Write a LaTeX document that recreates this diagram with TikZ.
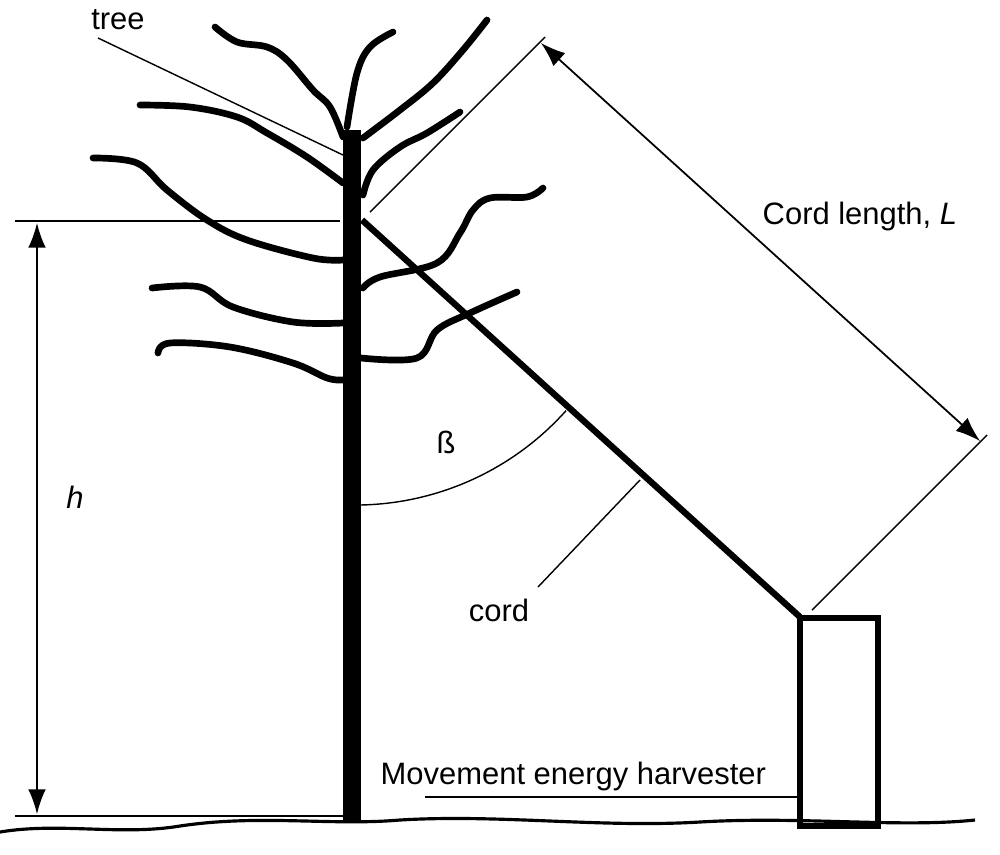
\documentclass[tikz,border=0pt]{standalone}
\usepackage{fontspec}
\setmainfont{Liberation Sans}
\usetikzlibrary{arrows.meta}
\begin{document}
\begin{tikzpicture}[x=0.01cm,y=-0.01cm,
  br/.style={line width=1.9pt,line cap=round,line join=round},
  thin/.style={line width=0.4pt},
  lbl/.style={font=\fontsize{8.8pt}{10pt}\selectfont,inner sep=0pt},
  dim/.style={line width=0.5pt,{Latex[length=7pt,width=5pt]}-{Latex[length=7pt,width=5pt]}}]
\useasboundingbox (0,0) rectangle (1000,854);
% ground
\draw[line width=0.9pt] (0,832) .. controls (60,822) and (120,836) .. (180,826) .. controls (260,814) and (330,826) .. (400,820) .. controls (500,814) and (600,828) .. (700,822) .. controls (800,816) and (900,828) .. (975,820);
% trunk
\fill (343,130) rectangle (361,822);
% branches
\draw[br] plot[smooth,tension=0.6] coordinates {(215,27) (237,42) (267,47) (287,60) (313,90) (330,107) (343,137)};
\draw[br] plot[smooth,tension=0.6] coordinates {(140,105) (190,107) (237,117) (267,133) (307,157) (343,183)};
\draw[br] plot[smooth,tension=0.6] coordinates {(93,158) (137,163) (167,190) (207,220) (247,240) (313,258) (343,260)};
\draw[br] plot[smooth,tension=0.6] coordinates {(152,288) (200,287) (233,307) (293,322) (343,323)};
\draw[br] plot[smooth,tension=0.6] coordinates {(158,353) (170,343) (230,347) (293,363) (327,378) (343,380)};
\draw[br] plot[smooth,tension=0.6] coordinates {(347,127) (357,73) (370,47) (393,32)};
\draw[br] plot[smooth,tension=0.6] coordinates {(363,138) (400,110) (433,83) (463,50) (487,20)};
\draw[br] plot[smooth,tension=0.6] coordinates {(363,195) (373,170) (400,147) (427,133) (460,112)};
\draw[br] plot[smooth,tension=0.6] coordinates {(363,288) (380,277) (437,263) (460,233) (473,210) (490,198) (527,197) (543,188)};
\draw[br] plot[smooth,tension=0.6] coordinates {(361,358) (417,358) (437,330) (470,313) (517,292)};
% coordinates
\coordinate (cordTop) at (362,220);
\coordinate (cordBot) at (800,617);
\coordinate (ext1a) at (370,212); \coordinate (ext1b) at (545,37);
\coordinate (ext2a) at (812,610); \coordinate (ext2b) at (987,435);
% cord
\draw[line width=1.8pt] (cordTop) -- (cordBot);
% box
\draw[line width=1.8pt] (800,618) rectangle (878,826);
% height dimension
\draw[thin] (15,221) -- (340,221);
\draw[thin] (15,816) -- (343,816);
\coordinate (hT) at (37,223); \coordinate (hB) at (37,814);
\draw[dim] (hT) -- (hB);
\node[lbl,font=\fontsize{8.8pt}{10pt}\selectfont\itshape] (h) at (75,497) {h};
% cord length dimension
\draw[thin] (ext1a) -- (ext1b);
\draw[thin] (ext2a) -- (ext2b);
\draw[dim] (541,43) -- (980,441);
\node[lbl,anchor=west] (L) at (762,216) {Cord length, \textit{L}};
% angle
\draw[thin] (360,505) arc[start angle=89,end angle=41.8,radius=283];
\node[lbl] (beta) at (446,442) {ß};
% labels
\node[lbl] (tree) at (118,20) {tree};
\draw[thin] (98,38) -- (343,155);
\node[lbl] (cord) at (499,610) {cord};
\draw[thin] (538,587) -- (640,480);
\node[lbl,anchor=west] (meh) at (380,776) {Movement energy harvester};
\draw[thin] (425,797) -- (798,797);
\end{tikzpicture}
\end{document}
